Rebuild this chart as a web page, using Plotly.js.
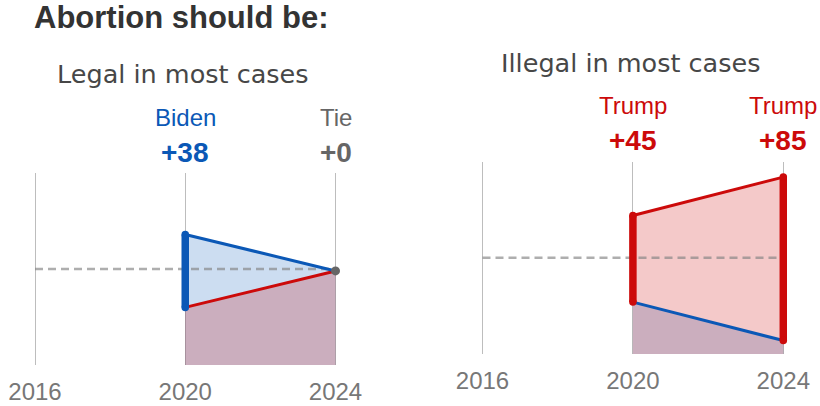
<!DOCTYPE html>
<html><head><meta charset="utf-8">
<script src="https://cdn.plot.ly/plotly-3.0.1.min.js"></script>
<style>html,body{margin:0;padding:0;background:#fff;} #chart{width:820px;height:406px;}</style>
</head><body><div id="chart"></div>
<script>
// ---- data ----
const years = [2016, 2020, 2024];
const tickLabels = ["2016", "2020", "2024"];
const chartTitle = "Abortion should be:";
const panelTitles = ["Legal in most cases", "Illegal in most cases"];
const legalBiden = [null, 68, 49];
const legalTrump = [null, 30, 49];
const illegalBiden = [null, 27, 7];
const illegalTrump = [null, 72, 92];

// ---- styles / layout constants ----
const W = 820, H = 406;
const FONT = 'Liberation Sans, Arial, sans-serif';
const SUBFONT = 'DejaVu Sans, sans-serif';
const BLUE = '#0b58b6', RED = '#cc0a0a', GRAY = '#666666';
const BLUE_FILL = 'rgba(0,85,184,0.2)', RED_FILL = 'rgba(204,0,0,0.21)';
const PAD = 0.1;
// pixel frame of each panel: [xFirstYear, xLastYear, yTop(100), yBottom(0)]
const frames = [[35, 335.5, 173, 365], [482.5, 783.3, 161.7, 354]];

const panels = [
  {biden: legalBiden, trump: legalTrump, title: panelTitles[0]},
  {biden: illegalBiden, trump: illegalTrump, title: panelTitles[1]}
];

const traces = [];
const annotations = [];
const layout = {
  width: W, height: H,
  margin: {l: 0, r: 0, t: 0, b: 0},
  paper_bgcolor: '#fff', plot_bgcolor: '#fff',
  showlegend: false,
  font: {family: FONT},
  title: {
    text: '<b>' + chartTitle + '</b>',
    font: {family: FONT, size: 31, color: '#333'},
    x: 34 / W, xanchor: 'left', xref: 'paper',
    y: 1 - 17 / H, yanchor: 'middle', yref: 'paper'
  },
  annotations: annotations
};

panels.forEach((p, i) => {
  const xa = i ? 'x2' : 'x', ya = i ? 'y2' : 'y';
  const xKey = i ? 'xaxis2' : 'xaxis', yKey = i ? 'yaxis2' : 'yaxis';
  const f = frames[i];
  const span = years[years.length - 1] - years[0];
  const pxPerYr = (f[1] - f[0]) / span;
  layout[xKey] = {
    domain: [(f[0] - PAD * pxPerYr) / W, (f[1] + PAD * pxPerYr) / W],
    range: [years[0] - PAD, years[years.length - 1] + PAD],
    anchor: ya,
    tickvals: years, ticktext: tickLabels,
    ticks: '', ticklabelstandoff: 10,
    tickfont: {family: FONT, size: 24, color: '#777'},
    showgrid: true, gridcolor: '#bdbdbd', gridwidth: 1,
    zeroline: false, showline: false, fixedrange: true
  };
  layout[yKey] = {
    domain: [(H - f[3]) / H, (H - f[2]) / H],
    range: [0, 100], anchor: xa,
    showgrid: false, zeroline: false, showline: false,
    showticklabels: false, ticks: '', fixedrange: true
  };

  const idx = years.map((y, k) => k).filter(k => p.biden[k] != null);
  const xs = idx.map(k => years[k]);
  const bs = idx.map(k => p.biden[k]);
  const ts = idx.map(k => p.trump[k]);

  // area fills to zero (overlap gives the mauve tone)
  traces.push({x: xs, y: bs, xaxis: xa, yaxis: ya, mode: 'lines', fill: 'tozeroy',
    fillcolor: BLUE_FILL, line: {width: 0, color: 'rgba(0,0,0,0)'}, hoverinfo: 'skip'});
  traces.push({x: xs, y: ts, xaxis: xa, yaxis: ya, mode: 'lines', fill: 'tozeroy',
    fillcolor: RED_FILL, line: {width: 0, color: 'rgba(0,0,0,0)'}, hoverinfo: 'skip'});
  // 50% dashed reference
  traces.push({x: [years[0], years[years.length - 1]], y: [50, 50], xaxis: xa, yaxis: ya,
    mode: 'lines', line: {color: 'rgba(130,130,130,0.65)', width: 2.5, dash: '8px,5px'}, hoverinfo: 'skip'});
  // candidate lines
  traces.push({x: xs, y: ts, xaxis: xa, yaxis: ya, mode: 'lines',
    line: {color: RED, width: 3}, hoverinfo: 'skip'});
  traces.push({x: xs, y: bs, xaxis: xa, yaxis: ya, mode: 'lines',
    line: {color: BLUE, width: 3}, hoverinfo: 'skip'});

  idx.forEach((k, j) => {
    const margin = Math.round(ts[j] - bs[j]);
    const yr = xs[j];
    let name, col;
    if (margin > 0) { name = 'Trump'; col = RED; }
    else if (margin < 0) { name = 'Biden'; col = BLUE; }
    else { name = 'Tie'; col = GRAY; }
    if (margin !== 0) {
      traces.push({x: [yr, yr], y: [bs[j], ts[j]], xaxis: xa, yaxis: ya, mode: 'lines+markers',
        line: {color: col, width: 7.5}, marker: {color: col, size: 7.5}, cliponaxis: false, hoverinfo: 'skip'});
    } else {
      traces.push({x: [yr], y: [bs[j]], xaxis: xa, yaxis: ya, mode: 'markers',
        marker: {color: col, size: 9}, cliponaxis: false, hoverinfo: 'skip'});
    }
    const labCol = margin === 0 ? '#666' : col;
    annotations.push({xref: xa, x: yr, yref: ya + ' domain', y: 1, yshift: 56,
      yanchor: 'middle', xanchor: 'center', showarrow: false, text: name,
      font: {family: FONT, size: 24, color: margin === 0 ? '#666' : col}});
    annotations.push({xref: xa, x: yr, yref: ya + ' domain', y: 1, yshift: 21,
      yanchor: 'middle', xanchor: 'center', showarrow: false, text: '<b>+' + Math.abs(margin) + '</b>',
      font: {family: FONT, size: 28, color: labCol}});
  });

  annotations.push({xref: xa + ' domain', x: 0.5, xshift: -2, yref: ya + ' domain', y: 1, yshift: 99,
    yanchor: 'middle', xanchor: 'center', showarrow: false, text: p.title,
    font: {family: SUBFONT, size: 25.5, color: '#474747'}});
});

Plotly.newPlot('chart', traces, layout, {staticPlot: true, displayModeBar: false});
</script>
</body></html>
